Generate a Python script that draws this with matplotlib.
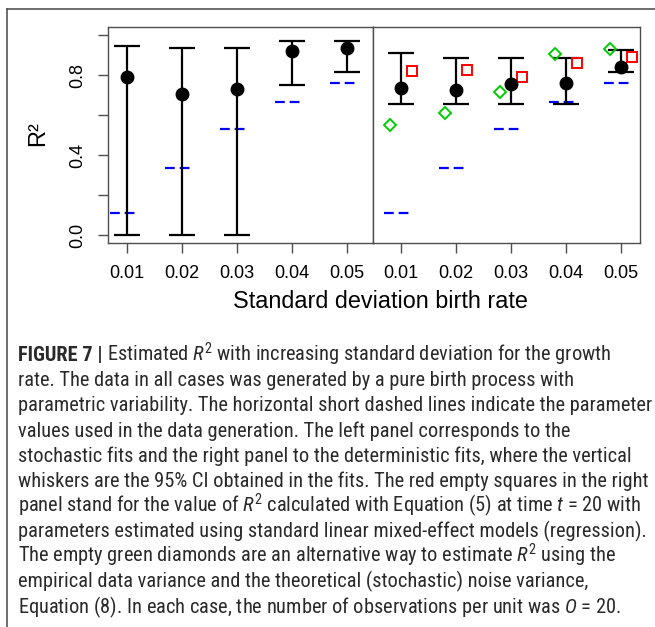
import numpy as np
import matplotlib
matplotlib.use("Agg")
import matplotlib.pyplot as plt
from matplotlib import font_manager
from matplotlib.lines import Line2D

# standard deviation of the birth rate
sd = np.array([0.01, 0.02, 0.03, 0.04, 0.05])
sd_labels = ["0.01", "0.02", "0.03", "0.04", "0.05"]

# true R^2 used to generate the data (blue dashes)
r2_true = np.array([0.112, 0.333, 0.529, 0.666, 0.758])

# stochastic fits (left panel)
stoch_est = np.array([0.790, 0.707, 0.732, 0.922, 0.936])
stoch_lo = np.array([0.000, 0.000, 0.000, 0.750, 0.813])
stoch_hi = np.array([0.947, 0.937, 0.937, 0.970, 0.970])

# deterministic fits (right panel)
det_est = np.array([0.735, 0.727, 0.757, 0.758, 0.840])
det_lo = np.array([0.657, 0.657, 0.657, 0.657, 0.813])
det_hi = np.array([0.908, 0.885, 0.885, 0.885, 0.923])

# R^2 from the mixed-effect regression (red squares) and empirical variance (green diamonds)
r2_lme = np.array([0.820, 0.827, 0.788, 0.862, 0.890])
r2_emp = np.array([0.550, 0.608, 0.713, 0.907, 0.930])

y_ticks = [0.0, 0.2, 0.4, 0.6, 0.8, 1.0]
y_ticklabels = ["0.0", "", "0.4", "", "0.8", ""]

cap_head = "FIGURE 7 | "
cap_lines = [
    r"Estimated $R^2$ with increasing standard deviation for the growth",
    "rate. The data in all cases was generated by a pure birth process with",
    "parametric variability. The horizontal short dashed lines indicate the parameter",
    "values used in the data generation. The left panel corresponds to the",
    "stochastic fits and the right panel to the deterministic fits, where the vertical",
    "whiskers are the 95% CI obtained in the fits. The red empty squares in the right",
    r"panel stand for the value of $R^2$ calculated with Equation (5) at time $t$ = 20 with",
    "parameters estimated using standard linear mixed-effect models (regression).",
    r"The empty green diamonds are an alternative way to estimate $R^2$ using the",
    "empirical data variance and the theoretical (stochastic) noise variance,",
    r"Equation (8). In each case, the number of observations per unit was $O$ = 20.",
]


def first_font(cands):
    for name in cands:
        try:
            font_manager.findfont(font_manager.FontProperties(family=name),
                                  fallback_to_default=False)
            return name
        except ValueError:
            pass
    return "DejaVu Sans"


cap_family = first_font(["Liberation Sans Narrow", "Roboto Condensed", "Open Sans Condensed",
                         "DejaVu Sans Condensed", "Liberation Sans"])

plt.rcParams["font.family"] = ["Liberation Sans", "DejaVu Sans"]
plt.rcParams["mathtext.fontset"] = "custom"
plt.rcParams["mathtext.rm"] = cap_family
plt.rcParams["mathtext.it"] = cap_family + ":italic"

W, H = 655, 627
fig = plt.figure(figsize=(W / 100, H / 100), dpi=100)

box_col = "#4d4d4d"


def px(x0, y0, x1, y1):
    return [x0 / W, 1 - y1 / H, (x1 - x0) / W, (y1 - y0) / H]


ax1 = fig.add_axes(px(108, 27, 373, 243))
ax2 = fig.add_axes(px(373, 27, 640, 243))
ax1.set_xlim(0.006545, 0.05473)
ax2.set_xlim(0.004909, 0.05345)


def true_dashes(ax):
    for x, y in zip(sd, r2_true):
        ax.plot([x - 0.0031, x + 0.0014], [y, y], color="#0000ff", lw=1.6,
                dashes=(4.4, 2.2), solid_capstyle="butt", dash_capstyle="butt")


for ax in (ax1, ax2):
    ax.set_ylim(-0.04, 1.04)
    for s in ax.spines.values():
        s.set_color(box_col)
        s.set_linewidth(1.0)
    ax.set_xticks(sd)
    ax.set_xticklabels(sd_labels)
    ax.tick_params(axis="x", length=7, width=1.0, color=box_col, labelsize=13, pad=9)
    true_dashes(ax)

ax1.set_yticks(y_ticks)
ax1.set_yticklabels(y_ticklabels, rotation=90, va="center")
ax1.tick_params(axis="y", length=7, width=1.0, color=box_col, labelsize=13, pad=9)
ax2.set_yticks([])

ax1.errorbar(sd, stoch_est, yerr=[stoch_est - stoch_lo, stoch_hi - stoch_est],
             fmt="o", color="black", ms=9, lw=1.6, capsize=9.5, capthick=1.6)
ax2.errorbar(sd, det_est, yerr=[det_est - det_lo, det_hi - det_est],
             fmt="o", color="black", ms=9, lw=1.6, capsize=9.5, capthick=1.6)
ax2.plot(sd + 0.002, r2_lme, "s", ms=6.8, mfc="none", mec="#ff0000", mew=1.4)
ax2.plot(sd - 0.002, r2_emp, "D", ms=6.2, mfc="none", mec="#00cd00", mew=1.4)

fig.text(38 / W, 1 - 134 / H, "R²", rotation=90, ha="center", va="center", fontsize=17)
fig.text(380 / W, 1 - 301 / H, "Standard deviation birth rate", ha="center", va="center",
         fontsize=16.8)

# frame around the figure panel
fig.add_artist(Line2D([7 / W, 1], [1 - 9 / H, 1 - 9 / H], color="#555555", lw=1.2))
fig.add_artist(Line2D([7 / W, 7 / W], [0, 1 - 9 / H], color="#555555", lw=1.2))

# caption, sized so the longest line spans the text block width
x0 = 18 / W
y_first = 361
step = 25.2
block_w = 630
txt_kw = dict(family=[cap_family, "DejaVu Sans"], va="baseline", color="#2a2a2a")

head = fig.text(x0, 1 - y_first / H, cap_head, fontsize=12, fontweight="bold", **txt_kw)
body = [fig.text(x0, 1 - (y_first + i * step) / H, line, fontsize=12, **txt_kw)
        for i, line in enumerate(cap_lines)]

renderer = fig.canvas.get_renderer()
widest = max(t.get_window_extent(renderer).width for t in body[1:])
size = 12 * block_w / widest
head.set_fontsize(size)
for t in body:
    t.set_fontsize(size)

head_w = head.get_window_extent(renderer).width
body[0].set_x(x0 + head_w / W)

fig.savefig("out.png", dpi=100)
